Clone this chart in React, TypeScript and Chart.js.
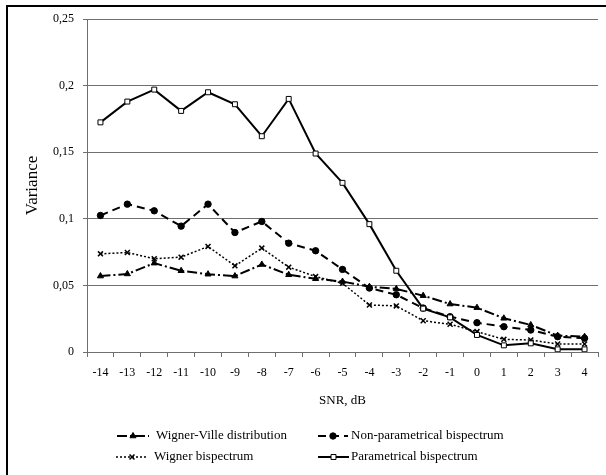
import React, { useEffect, useRef } from "react";
import { Chart, registerables } from "chart.js";
import { drawPoint } from "chart.js/helpers";

Chart.register(...registerables);

const categories = ["-14", "-13", "-12", "-11", "-10", "-9", "-8", "-7", "-6", "-5", "-4", "-3", "-2", "-1", "0", "1", "2", "3", "4"];
const wignerVille = [0.057, 0.0586, 0.0667, 0.061, 0.0584, 0.057, 0.0657, 0.058, 0.055, 0.0529, 0.049, 0.0474, 0.0423, 0.036, 0.0333, 0.0253, 0.0203, 0.0123, 0.0115];
const nonParametrical = [0.1025, 0.111, 0.106, 0.0945, 0.111, 0.0897, 0.098, 0.0817, 0.076, 0.062, 0.048, 0.043, 0.033, 0.0265, 0.022, 0.019, 0.0165, 0.0115, 0.0103];
const wignerBispectrum = [0.0737, 0.0747, 0.07, 0.0712, 0.0792, 0.0647, 0.078, 0.0637, 0.0566, 0.0516, 0.0353, 0.0346, 0.0235, 0.0208, 0.0153, 0.0095, 0.009, 0.006, 0.006];
const parametrical = [0.1724, 0.188, 0.197, 0.181, 0.195, 0.186, 0.162, 0.19, 0.149, 0.127, 0.096, 0.061, 0.0326, 0.026, 0.0128, 0.005, 0.0065, 0.002, 0.002];
const seriesNames = ["Wigner-Ville distribution", "Non-parametrical bispectrum", "Wigner bispectrum", "Parametrical bispectrum"];
const yTickLabels = ["0", "0,05", "0,1", "0,15", "0,2", "0,25"];
const xTitle = "SNR, dB";
const yTitle = "Variance";

const SERIF = '"Liberation Serif", "Times New Roman", serif';

const framePlugin = {
  id: "frame",
  beforeDraw(chart: any) {
    const ctx = chart.ctx;
    ctx.save();
    ctx.fillStyle = "#ffffff";
    ctx.fillRect(0, 0, chart.width, chart.height);
    ctx.strokeStyle = "#000000";
    ctx.lineWidth = 2;
    ctx.beginPath();
    ctx.moveTo(7, chart.height);
    ctx.lineTo(7, 6);
    ctx.lineTo(chart.width, 6);
    ctx.stroke();
    ctx.restore();
  },
};

const legendPos = [
  { x0: 117, x1: 149, tx: 156, y: 436 },
  { x0: 318, x1: 348, tx: 351, y: 436 },
  { x0: 116, x1: 148, tx: 154, y: 457 },
  { x0: 318, x1: 349, tx: 351, y: 457 },
];

const legendPlugin = {
  id: "gridLegend",
  afterDraw(chart: any) {
    const ctx = chart.ctx;
    chart.data.datasets.forEach((ds: any, i: number) => {
      const p = legendPos[i];
      ctx.save();
      ctx.strokeStyle = ds.borderColor;
      ctx.lineWidth = ds.borderWidth;
      ctx.setLineDash(ds.borderDash || []);
      ctx.beginPath();
      ctx.moveTo(p.x0, p.y);
      ctx.lineTo(p.x1, p.y);
      ctx.stroke();
      ctx.setLineDash([]);
      ctx.fillStyle = ds.pointBackgroundColor;
      ctx.strokeStyle = ds.pointBorderColor;
      ctx.lineWidth = ds.pointBorderWidth;
      drawPoint(ctx, { pointStyle: ds.pointStyle, radius: ds.pointRadius, borderWidth: ds.pointBorderWidth, rotation: 0 }, (p.x0 + p.x1) / 2, p.y);
      ctx.fillStyle = "#000";
      ctx.font = `13px ${SERIF}`;
      ctx.textBaseline = "middle";
      ctx.textAlign = "left";
      ctx.fillText(ds.label, p.tx, p.y);
      ctx.restore();
    });
  },
};

export default function App() {
  const ref = useRef<HTMLCanvasElement | null>(null);
  useEffect(() => {
    if (!ref.current) return;
    const chart = new Chart(ref.current, {
      type: "line",
      data: {
        labels: categories,
        datasets: [
          {
            label: seriesNames[0],
            data: wignerVille,
            borderColor: "#000",
            borderWidth: 2,
            borderDash: [10, 3, 2, 3],
            pointStyle: "triangle",
            pointRadius: 3.5,
            pointBackgroundColor: "#000",
            pointBorderColor: "#000",
            pointBorderWidth: 1,
            order: 4,
          },
          {
            label: seriesNames[1],
            data: nonParametrical,
            borderColor: "#000",
            borderWidth: 2,
            borderDash: [8, 5],
            pointStyle: "circle",
            pointRadius: 3.2,
            pointBackgroundColor: "#000",
            pointBorderColor: "#000",
            pointBorderWidth: 1,
            order: 3,
          },
          {
            label: seriesNames[2],
            data: wignerBispectrum,
            borderColor: "#000",
            borderWidth: 1.5,
            borderDash: [2, 2],
            pointStyle: "crossRot",
            pointRadius: 3.5,
            pointBackgroundColor: "#000",
            pointBorderColor: "#000",
            pointBorderWidth: 1.5,
            order: 2,
          },
          {
            label: seriesNames[3],
            data: parametrical,
            borderColor: "#000",
            borderWidth: 2,
            pointStyle: "rect",
            pointRadius: 3.5,
            pointBackgroundColor: "#fff",
            pointBorderColor: "#000",
            pointBorderWidth: 1,
            order: 1,
          },
        ],
      },
      options: {
        animation: false,
        responsive: false,
        layout: { padding: { top: 19, left: 18, right: 8, bottom: 63 } },
        plugins: { legend: { display: false }, tooltip: { enabled: false } },
        scales: {
          x: {
            offset: true,
            grid: { drawOnChartArea: false, offset: true, tickLength: 5, color: "#6f6f6f" },
            border: { color: "#6f6f6f" },
            ticks: { font: { family: SERIF, size: 12 }, color: "#000", padding: 9, maxRotation: 0, autoSkip: false },
            title: { display: true, text: xTitle, font: { family: SERIF, size: 13 }, color: "#000" },
            afterFit(scale: any) { scale.height = 60; },
          },
          y: {
            min: 0,
            max: 0.25,
            ticks: {
              stepSize: 0.05,
              font: { family: SERIF, size: 12 },
              color: "#000",
              padding: 9,
              callback: (_v: any, i: number) => yTickLabels[i],
            },
            grid: { color: "#6f6f6f", tickLength: 4 },
            border: { color: "#6f6f6f" },
            title: { display: true, text: yTitle, font: { family: SERIF, size: 17 }, color: "#000" },
            afterFit(scale: any) { scale.width = 69; },
          },
        },
      },
      plugins: [framePlugin, legendPlugin],
    } as any);
    return () => chart.destroy();
  }, []);
  return (
    <div style={{ position: "absolute", left: 0, top: 0, width: 606, height: 475 }}>
      <canvas ref={ref} width={606} height={475} />
    </div>
  );
}
